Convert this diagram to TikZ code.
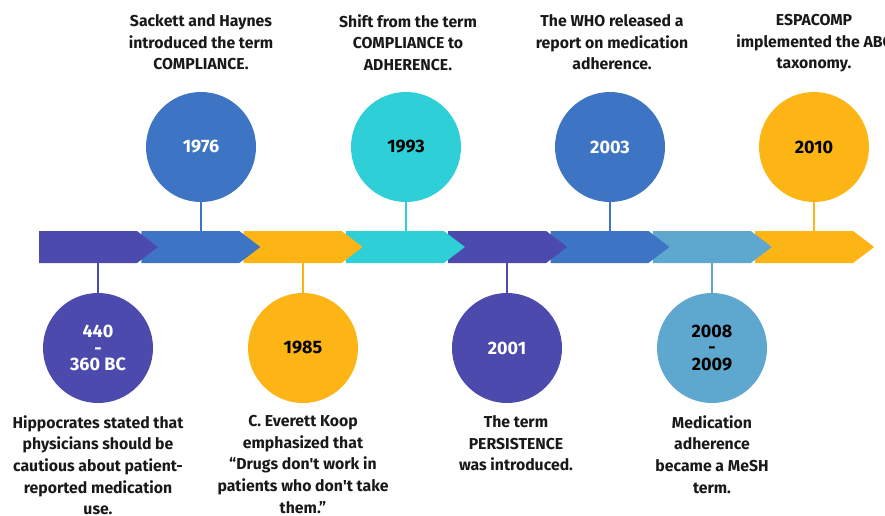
\documentclass[tikz,border=0pt]{standalone}
\usepackage{fontspec}
\setmainfont{Fira Sans}
\definecolor{cpurple}{HTML}{4C4BAD}
\definecolor{cblue}{HTML}{3D75C4}
\definecolor{cyellow}{HTML}{FDB515}
\definecolor{ccyan}{HTML}{2ECFD6}
\definecolor{clight}{HTML}{5EA8CF}
\begin{document}
\begin{tikzpicture}[x=1pt,y=-1pt,
  circ/.style={circle,minimum size=110pt,inner sep=0pt,align=center,font=\fontsize{18}{16.5}\selectfont\bfseries},
  desc/.style={align=center,font=\fontsize{15.8}{21.6}\selectfont\bfseries,text=black!90},
  stem/.style={line width=2pt}]
\useasboundingbox (0,0) rectangle (885,516);
\clip (0,0) rectangle (885,516);
% arrow segments (drawn last first so earlier ones overlap)
\foreach \i/\c in {7/cyellow,6/clight,5/cblue,4/cpurple,3/ccyan,2/cyellow,1/cblue,0/cpurple}{
  \pgfmathsetmacro{\L}{39+102.3*\i}
  \fill[\c] (\L,231) -- ({\L+98},231) -- ({\L+119},247) -- ({\L+98},263) -- (\L,263) -- cycle;
}
% top circles
\node[circ,fill=cblue,text=white] (c1976) at (201,147) {1976};
\node[circ,fill=ccyan,text=black] (c1993) at (406,147) {1993};
\node[circ,fill=cblue,text=white] (c2003) at (610,147) {2003};
\node[circ,fill=cyellow,text=black] (c2010) at (814,147) {2010};
% bottom circles
\node[circ,fill=cpurple,text=white] (c440) at (98,348) {440\\-\\360 BC};
\node[circ,fill=cyellow,text=black] (c1985) at (303,348) {1985};
\node[circ,fill=cpurple,text=white] (c2001) at (507,348) {2001};
\node[circ,fill=clight,text=black] (c2008) at (712,348) {2008\\-\\2009};
% stems
\coordinate (t1976) at (201,231);
\coordinate (t1993) at (406,231);
\coordinate (t2003) at (610,231);
\coordinate (t2010) at (814,231);
\coordinate (b440) at (98,263);
\coordinate (b1985) at (303,263);
\coordinate (b2001) at (507,263);
\coordinate (b2008) at (712,263);
\draw[stem,cblue] (c1976.south) -- (t1976);
\draw[stem,ccyan] (c1993.south) -- (t1993);
\draw[stem,cblue] (c2003.south) -- (t2003);
\draw[stem,cyellow] (c2010.south) -- (t2010);
\draw[stem,cpurple] (c440.north) -- (b440);
\draw[stem,cyellow] (c1985.north) -- (b1985);
\draw[stem,cpurple] (c2001.north) -- (b2001);
\draw[stem,clight] (c2008.north) -- (b2008);
% top texts
\node[desc,anchor=north] (d1976) at (201,11) {Sackett and Haynes\\introduced the term\\COMPLIANCE.};
\node[desc,anchor=north] (d1993) at (408,11) {Shift from the term\\COMPLIANCE to\\ADHERENCE.};
\node[desc,anchor=north] (d2003) at (612,11) {The WHO released a\\report on medication\\adherence.};
\node[desc,anchor=north] (d2010) at (814,11) {ESPACOMP\\implemented the ABC\\taxonomy.};
% bottom texts
\node[desc,anchor=north] (d440) at (98,412) {Hippocrates stated that\\physicians should be\\cautious about patient-\\reported medication\\use.};
\node[desc,anchor=north] (d1985) at (303,412) {C. Everett Koop\\emphasized that\\“Drugs don\textquotesingle t work in\\patients who don\textquotesingle t take\\them.”};
\node[desc,anchor=north] (d2001) at (516,412) {The term\\PERSISTENCE\\was introduced.};
\node[desc,anchor=north] (d2008) at (712,412) {Medication\\adherence\\became a MeSH\\term.};
\end{tikzpicture}
\end{document}
